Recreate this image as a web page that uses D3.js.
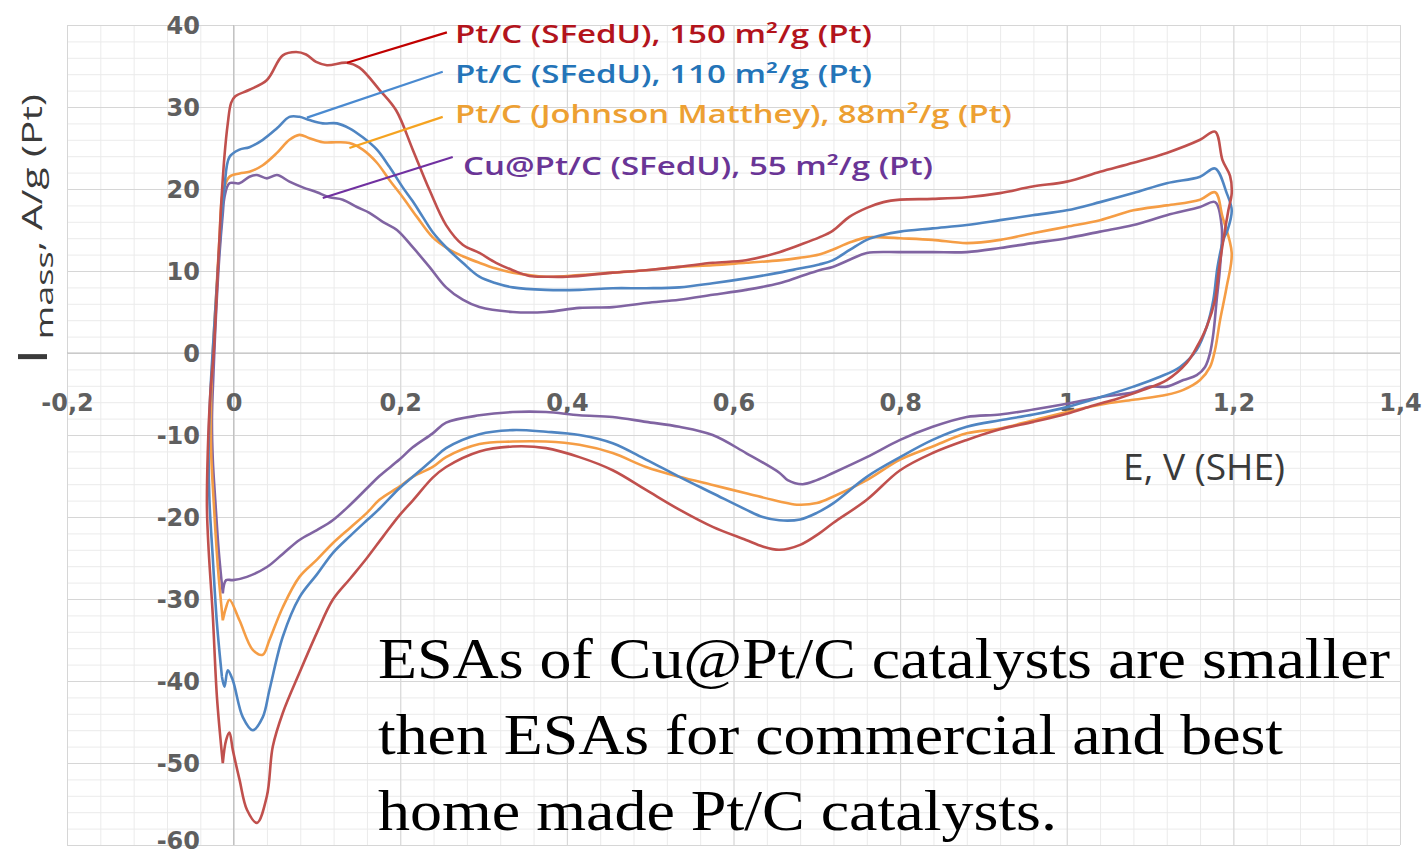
<!DOCTYPE html>
<html>
<head>
<meta charset="utf-8">
<script src="https://cdn.jsdelivr.net/npm/d3@7/dist/d3.min.js"></script>
<style>
	body { margin: 0; background: #fff; }
	svg { display: block; }
</style>
</head>
<body>
<div id="chart"></div>
<script>
// CV curves: [E (V, SHE), I mass (A/g Pt)]
// "Up" = anodic sweep (left to right), "Down" = cathodic sweep (back to the left)
const pt150Up = [[-0.013,-50],[-0.02,-42],[-0.025,-32],[-0.03,-24],[-0.032,-19],[-0.031,-12],[-0.028,-5],[-0.024,0],[-0.019,10],[-0.015,18],[-0.011,24],[-0.007,28],[-0.003,30.5],[0.002,31.3],[0.019,32.1],[0.04,33.3],[0.059,36.3],[0.075,36.7],[0.087,36.4],[0.099,35.5],[0.112,35.1],[0.136,35.4],[0.151,34.8],[0.175,32.1],[0.195,29.6],[0.215,24.8],[0.235,19.9],[0.255,15.6],[0.275,13.2],[0.295,12.2],[0.315,11],[0.335,10.1],[0.355,9.4],[0.375,9.3],[0.4,9.3],[0.455,9.8],[0.495,10.1],[0.535,10.5],[0.575,11],[0.615,11.3],[0.655,12.3],[0.68,13.2],[0.703,14.1],[0.719,14.9],[0.739,16.6],[0.76,17.7],[0.78,18.4],[0.8,18.7],[0.839,18.8],[0.88,19],[0.92,19.5],[0.959,20.3],[1,20.9],[1.04,22.1],[1.08,23.2],[1.12,24.4],[1.16,26],[1.178,27],[1.187,23.5],[1.196,21.6],[1.198,19.5]]
const pt150Down = [[1.194,17.4],[1.188,13.8],[1.182,9.7],[1.178,6.5],[1.168,3.2],[1.156,0.7],[1.144,-1.2],[1.12,-3.3],[1.092,-4.5],[1.06,-5.6],[1.032,-6.4],[1,-7.4],[0.96,-8.4],[0.92,-9.3],[0.88,-10.6],[0.839,-12.2],[0.8,-14.3],[0.76,-17.9],[0.72,-20.7],[0.703,-22],[0.68,-23.4],[0.655,-24],[0.635,-23.6],[0.615,-22.8],[0.575,-21.2],[0.535,-19.1],[0.495,-16.7],[0.455,-14.3],[0.415,-12.7],[0.375,-11.6],[0.335,-11.4],[0.295,-12],[0.255,-13.9],[0.239,-15.2],[0.215,-18],[0.199,-19.8],[0.18,-22.3],[0.16,-25],[0.14,-27.5],[0.119,-30.1],[0.1,-34.1],[0.079,-39],[0.059,-43.9],[0.047,-48],[0.04,-54],[0.028,-57.3],[0.016,-55.7],[0.007,-52],[-0.001,-48.4],[-0.005,-46.3],[-0.009,-47.2],[-0.013,-50]]

const pt110Up = [[-0.014,-39.5],[-0.02,-33],[-0.025,-25],[-0.029,-18],[-0.03,-12],[-0.028,-5],[-0.024,2],[-0.019,10],[-0.014,17],[-0.011,20.2],[-0.005,23.9],[0.007,24.8],[0.019,25.1],[0.035,26],[0.052,27.4],[0.067,28.8],[0.079,28.8],[0.091,28.4],[0.107,28],[0.124,28],[0.139,27.4],[0.155,26.3],[0.172,24.8],[0.187,22.7],[0.203,20.2],[0.215,18.5],[0.227,16.6],[0.24,14.6],[0.255,12.9],[0.275,11],[0.295,9.3],[0.315,8.5],[0.335,8],[0.375,7.7],[0.415,7.7],[0.455,7.9],[0.495,7.9],[0.535,8],[0.575,8.5],[0.615,9.1],[0.655,9.8],[0.679,10.3],[0.703,10.8],[0.719,11.3],[0.74,12.6],[0.76,13.8],[0.779,14.4],[0.8,14.8],[0.839,15.2],[0.88,15.6],[0.92,16.2],[0.959,16.8],[1,17.4],[1.04,18.4],[1.08,19.5],[1.12,20.7],[1.16,21.5],[1.178,22.5],[1.192,19.5],[1.198,17.4]]
const pt110Down = [[1.193,15],[1.188,13.8],[1.181,10.5],[1.176,6.5],[1.168,3.2],[1.156,0.4],[1.136,-1.7],[1.112,-2.9],[1.08,-4.1],[1.04,-5.4],[1,-6.6],[0.96,-7.5],[0.92,-8.2],[0.88,-9],[0.839,-10.6],[0.8,-12.7],[0.76,-15.1],[0.72,-18.3],[0.7,-19.5],[0.68,-20.3],[0.655,-20.4],[0.635,-20],[0.615,-19.1],[0.575,-17.1],[0.535,-15.1],[0.495,-13],[0.455,-11],[0.415,-10],[0.375,-9.6],[0.335,-9.4],[0.295,-9.9],[0.255,-11.6],[0.239,-13],[0.215,-15.1],[0.199,-16.5],[0.175,-19],[0.16,-20.4],[0.14,-22.3],[0.119,-24.4],[0.1,-27],[0.079,-29.8],[0.059,-34.6],[0.043,-41.1],[0.035,-44.4],[0.023,-46],[0.011,-44.4],[-0.001,-39.9],[-0.007,-38.7],[-0.011,-40.7],[-0.014,-39.5]]

const jm88Up = [[-0.013,-32.6],[-0.019,-26],[-0.024,-18],[-0.027,-12],[-0.027,-6],[-0.025,0],[-0.021,7],[-0.017,14],[-0.013,19.5],[-0.005,21.5],[0.007,21.9],[0.019,22.1],[0.035,22.9],[0.052,24.4],[0.067,26],[0.079,26.6],[0.091,26.2],[0.107,25.7],[0.124,25.7],[0.139,25.6],[0.155,24.8],[0.172,23.2],[0.187,21.1],[0.203,19],[0.22,16.6],[0.239,14.1],[0.259,12.6],[0.275,11.8],[0.295,11],[0.315,10.3],[0.335,9.8],[0.375,9.3],[0.415,9.5],[0.455,9.8],[0.495,10.1],[0.535,10.5],[0.575,10.7],[0.615,11],[0.655,11.3],[0.679,11.6],[0.703,12],[0.719,12.6],[0.74,13.5],[0.76,14.1],[0.779,14.1],[0.8,14],[0.839,13.8],[0.88,13.4],[0.92,13.8],[0.959,14.6],[1,15.4],[1.04,16.2],[1.08,17.4],[1.12,18],[1.16,18.7],[1.178,19.6],[1.187,16.6],[1.198,12.2]]
const jm88Down = [[1.192,8.1],[1.184,4],[1.178,0.4],[1.172,-1.7],[1.16,-3.3],[1.14,-4.5],[1.12,-5.1],[1.08,-5.7],[1.04,-6.3],[1,-7.2],[0.96,-8.2],[0.92,-9.2],[0.88,-9.8],[0.839,-11.4],[0.8,-13],[0.76,-15.5],[0.72,-17.5],[0.7,-18.3],[0.676,-18.5],[0.655,-18.1],[0.615,-17.1],[0.575,-16.1],[0.535,-15.1],[0.495,-13.9],[0.455,-12.2],[0.415,-11.2],[0.375,-10.8],[0.335,-10.8],[0.295,-11.1],[0.255,-12.7],[0.239,-13.9],[0.215,-15.1],[0.199,-16.3],[0.175,-17.9],[0.16,-19.5],[0.14,-21.3],[0.119,-23.2],[0.1,-25.2],[0.079,-27.3],[0.059,-31],[0.043,-35],[0.035,-36.8],[0.023,-36.2],[0.007,-32.6],[-0.005,-30.1],[-0.009,-31],[-0.013,-32.6]]

const cuPt55Up = [[-0.013,-29.3],[-0.018,-24],[-0.022,-18],[-0.025,-13],[-0.026,-8],[-0.024,-2],[-0.021,5],[-0.017,12],[-0.013,17],[-0.011,19],[-0.005,20.7],[0.007,20.7],[0.019,21.5],[0.028,21.7],[0.04,21.3],[0.052,21.7],[0.067,20.9],[0.083,20.2],[0.1,19.6],[0.115,19],[0.131,18.7],[0.148,17.8],[0.163,17.1],[0.179,16],[0.196,15],[0.215,12.9],[0.235,10.5],[0.255,8],[0.275,6.5],[0.295,5.6],[0.335,5],[0.375,5],[0.415,5.5],[0.455,5.6],[0.495,6.1],[0.535,6.5],[0.575,7.1],[0.615,7.7],[0.655,8.5],[0.679,9.3],[0.703,10.1],[0.719,10.5],[0.74,11.4],[0.76,12.2],[0.8,12.3],[0.839,12.3],[0.88,12.3],[0.92,12.8],[0.959,13.4],[1,14],[1.04,14.8],[1.08,15.6],[1.12,16.8],[1.16,17.8],[1.178,18.4],[1.186,15.4]]
const cuPt55Down = [[1.184,10.5],[1.18,6.5],[1.176,2.4],[1.172,0],[1.166,-1.7],[1.156,-2.7],[1.14,-3.3],[1.12,-4.1],[1.1,-4.1],[1.08,-4.8],[1.04,-5.4],[1,-6.2],[0.96,-6.9],[0.92,-7.5],[0.88,-7.8],[0.839,-9],[0.8,-10.6],[0.76,-12.7],[0.72,-14.6],[0.7,-15.5],[0.683,-16],[0.665,-15.5],[0.655,-14.6],[0.615,-12.2],[0.575,-10],[0.535,-9],[0.495,-8.4],[0.455,-7.8],[0.415,-7.6],[0.375,-7.2],[0.335,-7.2],[0.295,-7.6],[0.255,-8.5],[0.239,-9.8],[0.215,-11.5],[0.199,-13],[0.175,-15],[0.16,-16.5],[0.14,-18.5],[0.119,-20.4],[0.1,-21.6],[0.079,-22.8],[0.059,-24.5],[0.04,-26.1],[0.016,-27.3],[-0.001,-27.7],[-0.009,-27.7],[-0.013,-29.3]]

const seriesNames = ["Pt/C (SFedU), 150 m²/g (Pt)", "Pt/C (SFedU), 110 m²/g (Pt)", "Pt/C (Johnson  Matthey), 88m²/g (Pt)", "Cu@Pt/C (SFedU), 55 m²/g (Pt)"]
// where each leader line touches its curve, and where it meets its label
const leaderFrom = [[0.136, 35.4], [0.088, 28.7], [0.139, 25.0], [0.107, 18.9]]
const leaderTo = [[0.256, 39.1], [0.251, 34.3], [0.251, 28.8], [0.263, 23.9]]

const xTicks = [-0.2, 0, 0.2, 0.4, 0.6, 0.8, 1, 1.2, 1.4]
const yTicks = [40, 30, 20, 10, 0, -10, -20, -30, -40, -50, -60]
const noteLines = ["ESAs of Cu@Pt/C catalysts are smaller", "then ESAs for commercial and best", "home made Pt/C catalysts."]

const series = [
	{ name: seriesNames[0], up: pt150Up, down: pt150Down, stroke: "#c0504d", lead: "#c00000", text: "#b3141c" },
	{ name: seriesNames[1], up: pt110Up, down: pt110Down, stroke: "#4f85c2", lead: "#4a8ad0", text: "#2474b8" },
	{ name: seriesNames[2], up: jm88Up, down: jm88Down, stroke: "#f59d45", lead: "#f5a320", text: "#eda032" },
	{ name: seriesNames[3], up: cuPt55Up, down: cuPt55Down, stroke: "#8064a2", lead: "#7030a0", text: "#6a3596" }
]

const width = 1426
const height = 856

const svg = d3.select("#chart")
	.append("svg")
		.attr("width", width)
		.attr("height", height)
		.style("background", "#fff")

const x = d3.scaleLinear().domain([-0.2, 1.4]).range([67, 1400])
const y = d3.scaleLinear().domain([-60, 40]).range([845, 25])

// decimal comma like the original
const fmt = d3.formatLocale({ decimal: ",", thousands: ".", grouping: [3], currency: ["", ""], minus: "-" }).format("~g")

// minor grid, then major grid
const minorX = d3.range(41).map(i => -0.2 + i * 0.04)
const minorY = d3.range(51).map(i => -60 + i * 2)

const grid = svg.append("g")
grid.append("g")
	.attr("transform", `translate(0,${y(-60)})`)
	.call(d3.axisBottom(x).tickValues(minorX).tickSize(-(y(-60) - y(40))).tickFormat(""))
	.call(g => g.select(".domain").remove())
	.call(g => g.selectAll("line").attr("stroke", "#ebebeb"))
grid.append("g")
	.attr("transform", `translate(${x(-0.2)},0)`)
	.call(d3.axisLeft(y).tickValues(minorY).tickSize(-(x(1.4) - x(-0.2))).tickFormat(""))
	.call(g => g.select(".domain").remove())
	.call(g => g.selectAll("line").attr("stroke", "#ebebeb"))
grid.append("g")
	.attr("transform", `translate(0,${y(-60)})`)
	.call(d3.axisBottom(x).tickValues(xTicks).tickSize(-(y(-60) - y(40))).tickFormat(""))
	.call(g => g.select(".domain").remove())
	.call(g => g.selectAll("line").attr("stroke", "#d6d6d6"))
grid.append("g")
	.attr("transform", `translate(${x(-0.2)},0)`)
	.call(d3.axisLeft(y).tickValues(yTicks).tickSize(-(x(1.4) - x(-0.2))).tickFormat(""))
	.call(g => g.select(".domain").remove())
	.call(g => g.selectAll("line").attr("stroke", "#d6d6d6"))

// zero lines
svg.append("line")
	.attr("x1", x(-0.2)).attr("x2", x(1.4))
	.attr("y1", y(0)).attr("y2", y(0))
	.attr("stroke", "#bdbdbd")
svg.append("line")
	.attr("x1", x(0)).attr("x2", x(0))
	.attr("y1", y(40)).attr("y2", y(-60))
	.attr("stroke", "#bdbdbd")

// tick labels
const tickFont = g => g
	.attr("font-family", "'DejaVu Sans', sans-serif")
	.attr("font-weight", "bold")
	.attr("font-size", 24)
	.attr("fill", "#5f5f5f")

svg.append("g")
	.attr("transform", `translate(0,${y(0)})`)
	.call(d3.axisBottom(x).tickValues(xTicks).tickSize(0).tickPadding(38).tickFormat(fmt))
	.call(g => g.select(".domain").remove())
	.call(g => g.selectAll("text").call(tickFont).attr("dy", "0.35em").attr("y", 50))

svg.append("g")
	.attr("transform", `translate(200,0)`)
	.call(d3.axisLeft(y).tickValues(yTicks).tickSize(0).tickPadding(0).tickFormat(fmt))
	.call(g => g.select(".domain").remove())
	.call(g => g.selectAll("text").call(tickFont)
		.attr("dy", "0.35em")
		// the last label sits on the bottom edge, nudge it up so it stays whole
		.attr("y", d => d === -60 ? -5 : 0))

// curves
const line = d3.line()
	.curve(d3.curveCatmullRom.alpha(0.5))
	.x(d => x(d[0]))
	.y(d => y(d[1]))

svg.append("g")
	.attr("fill", "none")
	.attr("stroke-width", 2.6)
	.attr("stroke-linejoin", "round")
	.selectAll("path")
	.data(series.slice().reverse())
	.join("path")
		.attr("stroke", d => d.stroke)
		.attr("d", d => line(d.up.concat(d.down)))

// leader lines and labels
svg.append("g")
	.attr("stroke-width", 2.2)
	.selectAll("line")
	.data(series)
	.join("line")
		.attr("stroke", d => d.lead)
		.attr("x1", (d, i) => x(leaderFrom[i][0]))
		.attr("y1", (d, i) => y(leaderFrom[i][1]))
		.attr("x2", (d, i) => x(leaderTo[i][0]))
		.attr("y2", (d, i) => y(leaderTo[i][1]))

const labelPos = [[455, 43, 417], [455, 83, 417], [455, 123, 557], [463, 175, 470]]
svg.append("g")
	.attr("font-family", "'Open Sans', sans-serif")
	.attr("font-weight", 600)
	.attr("font-size", 25)
	.selectAll("text")
	.data(series)
	.join("text")
		.attr("x", (d, i) => labelPos[i][0])
		.attr("y", (d, i) => labelPos[i][1])
		.attr("textLength", (d, i) => labelPos[i][2])
		.attr("lengthAdjust", "spacingAndGlyphs")
		.attr("fill", d => d.text)
		.text(d => d.name)

// axis titles
svg.append("text")
	.attr("x", 1123)
	.attr("y", 480)
	.attr("font-family", "'Open Sans', sans-serif")
	.attr("font-size", 37)
	.attr("fill", "#3a3a3a")
	.attr("textLength", 162)
	.attr("lengthAdjust", "spacingAndGlyphs")
	.text("E, V (SHE)")

const yTitleG = svg.append("g")
	.attr("transform", "translate(42,365) rotate(-90)")
const yTitleInner = yTitleG.append("g")
const yTitle = yTitleInner.append("text")
	.attr("font-family", "'Open Sans', sans-serif")
	.attr("fill", "#3a3a3a")
yTitle.append("tspan").attr("font-size", 40).attr("dy", 5).text("I")
yTitle.append("tspan").attr("font-size", 24).attr("dy", 6).attr("dx", 6).text("mass")
yTitle.append("tspan").attr("font-size", 27).attr("dy", -11).text(", A/g (Pt)")
const natural = yTitle.node().getComputedTextLength()
yTitleInner.attr("transform", `scale(${262 / natural},1)`)

// note
svg.append("g")
	.attr("font-family", "'Liberation Serif', 'Times New Roman', serif")
	.attr("font-size", 57)
	.attr("fill", "#000")
	.selectAll("text")
	.data(noteLines)
	.join("text")
		.attr("x", 378)
		.attr("y", (d, i) => 678 + i * 76)
		.attr("textLength", (d, i) => [1012, 905, 679][i])
		.attr("lengthAdjust", "spacingAndGlyphs")
		.text(d => d)
</script>
</body>
</html>
